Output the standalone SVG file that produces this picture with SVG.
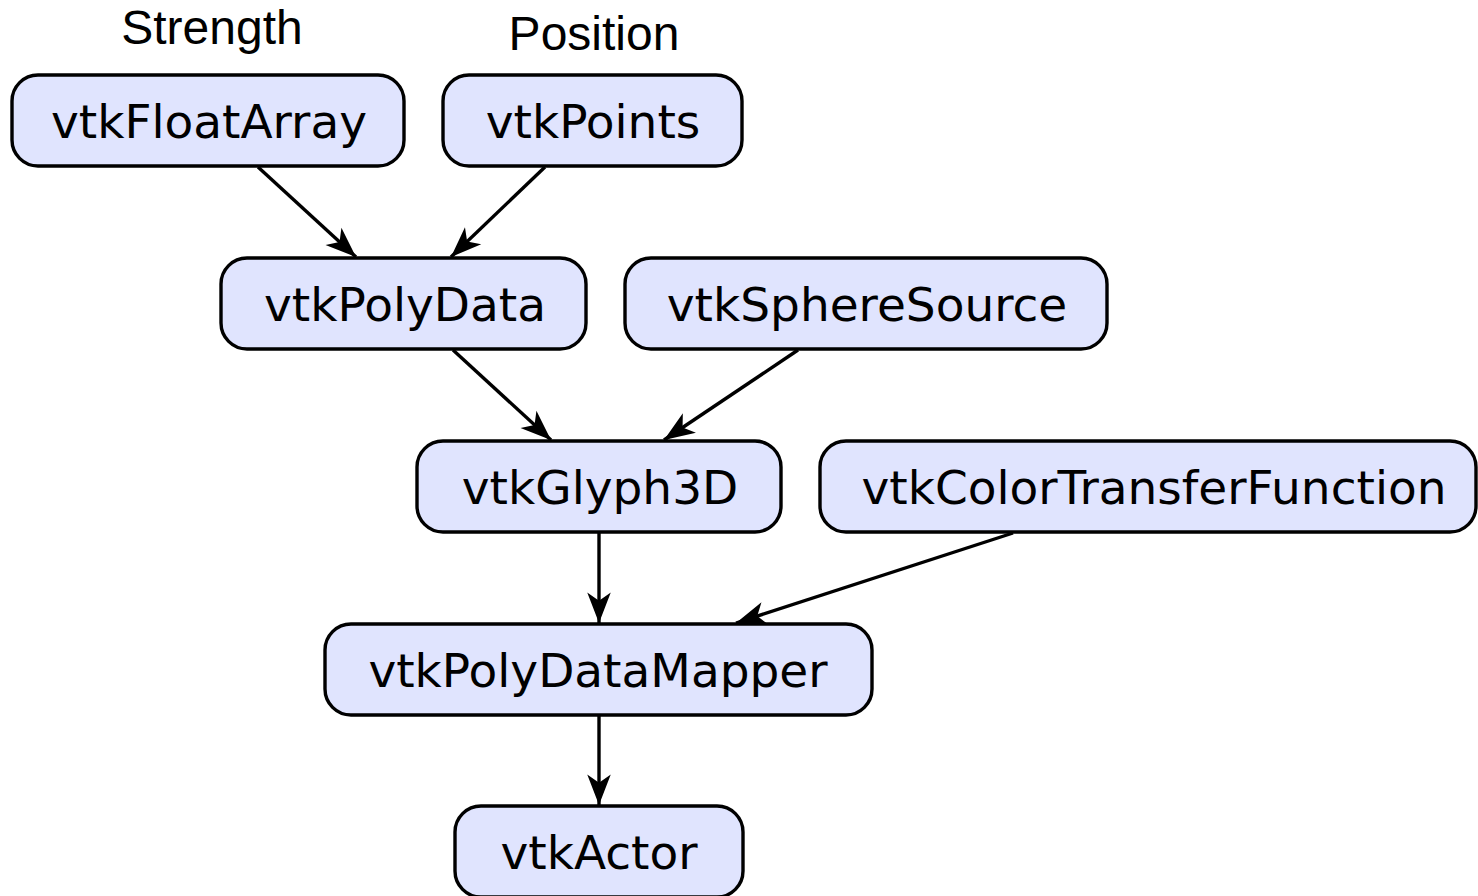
<svg xmlns="http://www.w3.org/2000/svg" width="1478" height="896" viewBox="0 0 1478 896">
<style>
.node rect{fill:#e0e4fe;stroke:#000;stroke-width:3.4}
.node text{font-family:"DejaVu Sans",sans-serif;font-size:47px;fill:#000;text-anchor:middle}
.lbl{font-family:"Liberation Sans",Arial,sans-serif;font-size:48px;fill:#000;text-anchor:middle}
.edges line{stroke:#000;stroke-width:3.4;marker-end:url(#arr)}
</style>
<defs>
<marker id="arr" markerUnits="userSpaceOnUse" markerWidth="40" markerHeight="40" viewBox="-30 -15 34 30" refX="0" refY="0" orient="auto">
<path d="M0,0 L-26,-10 L-19,0 L-26,10 Z" fill="#000"/>
</marker>
</defs>
<rect width="1478" height="896" fill="#fff"/>
<text class="lbl" x="212" y="44">Strength</text>
<text class="lbl" x="594" y="50">Position</text>
<g class="edges">
<line x1="258" y1="167" x2="356" y2="257"/>
<line x1="545" y1="167" x2="451" y2="257"/>
<line x1="453" y1="350" x2="551" y2="440"/>
<line x1="798" y1="350" x2="664" y2="440"/>
<line x1="599" y1="533" x2="599" y2="623"/>
<line x1="1013" y1="533" x2="736" y2="623"/>
<line x1="599" y1="716" x2="599" y2="805"/>
</g>
<g id="vtkFloatArray" class="node"><rect x="12" y="75" width="392" height="91" rx="26"/><text x="209" y="138">vtkFloatArray</text></g>
<g id="vtkPoints" class="node"><rect x="443" y="75" width="299" height="91" rx="26"/><text x="593" y="138">vtkPoints</text></g>
<g id="vtkPolyData" class="node"><rect x="221" y="258" width="365" height="91" rx="26"/><text x="405" y="321">vtkPolyData</text></g>
<g id="vtkSphereSource" class="node"><rect x="625" y="258" width="482" height="91" rx="26"/><text x="867" y="321">vtkSphereSource</text></g>
<g id="vtkGlyph3D" class="node"><rect x="417" y="441" width="364" height="91" rx="26"/><text x="600" y="504">vtkGlyph3D</text></g>
<g id="vtkColorTransferFunction" class="node"><rect x="820" y="441" width="656" height="91" rx="26"/><text x="1154" y="504">vtkColorTransferFunction</text></g>
<g id="vtkPolyDataMapper" class="node"><rect x="325" y="624" width="547" height="91" rx="26"/><text x="598" y="687">vtkPolyDataMapper</text></g>
<g id="vtkActor" class="node"><rect x="455" y="806" width="288" height="91" rx="26"/><text x="599" y="869">vtkActor</text></g>
</svg>
